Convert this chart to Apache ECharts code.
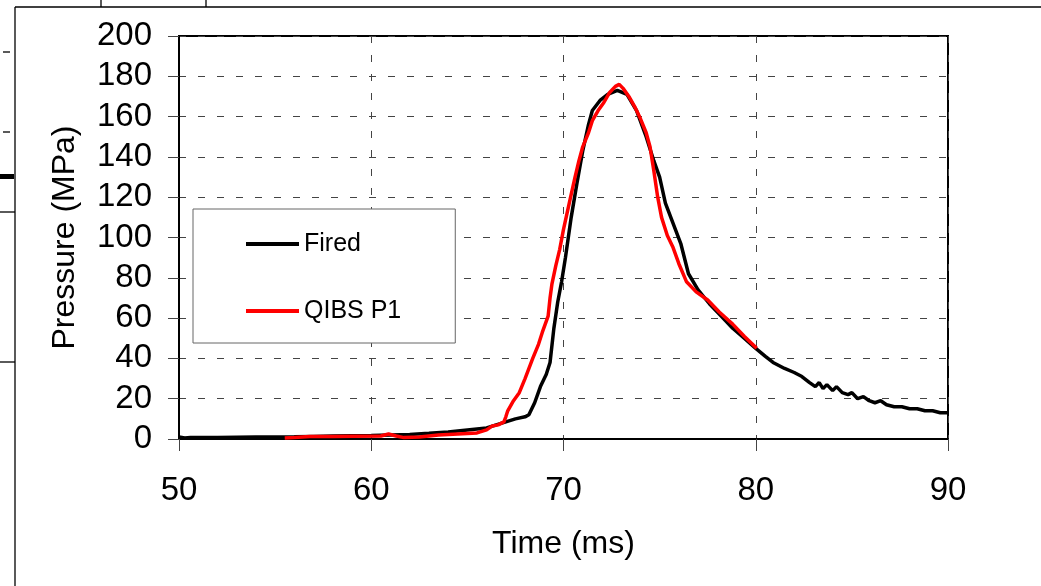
<!DOCTYPE html>
<html>
<head>
<meta charset="utf-8">
<script src="https://cdn.jsdelivr.net/npm/echarts@6/dist/echarts.min.js"></script>
<style>
  html, body { margin: 0; padding: 0; background: #fff; }
  #chart { width: 1041px; height: 586px; }
</style>
</head>
<body>
<div id="chart"></div>
<script>
// Fired pressure trace (time in ms, pressure in MPa)
var firedTime = [50.0, 50.3, 50.6, 51, 52, 53, 54, 55, 56, 57, 58, 59, 60, 61, 62, 63, 64, 65, 66, 66.5,
  67, 67.5, 68.0, 68.2, 68.5, 68.8, 69.1, 69.3, 69.5, 69.7, 69.9, 70.1, 70.4, 70.7, 71.0, 71.3, 71.5, 71.9,
  72.3, 72.8, 73.3, 73.8, 74.3, 74.7, 75.0, 75.3, 75.7, 76.1, 76.5, 77.0, 77.6, 78.2, 78.8, 79.4, 80.0,
  80.5, 80.9, 81.5, 82.0, 82.4, 82.8, 83.1, 83.3, 83.5, 83.7, 84.0, 84.2, 84.5, 84.8, 85.0, 85.3, 85.6,
  85.9, 86.2, 86.5, 86.8, 87.2, 87.6, 88.0, 88.4, 88.8, 89.2, 89.6, 90.0];
var firedPressure = [1.0, 0.5, 0.8, 0.8, 0.8, 0.9, 1.0, 1.0, 1.1, 1.3, 1.5, 1.6, 1.7, 2.0, 2.2, 2.8, 3.5, 4.5, 5.5, 7,
  8.5, 10, 11, 12, 18, 26, 32, 38, 55, 68, 78, 90, 110, 127, 143, 156, 163, 168,
  171, 173, 171, 163, 150, 138, 130, 117, 107, 97, 82, 74, 67, 61, 55, 50, 45,
  41, 38, 35, 33, 31, 28, 26, 28, 25, 27, 24, 26, 23, 22, 23, 20, 21,
  19, 18, 19, 17, 16, 16, 15, 15, 14, 14, 13, 13];

// QIBS P1 simulated trace
var qibsTime = [55.5, 56.0, 56.8, 58, 59, 60.5, 60.9, 61.3, 61.7, 62.5, 63.5, 64.5, 65.5, 66.0, 66.3, 66.6, 66.9,
  67.0, 67.1, 67.4, 67.7, 68.0, 68.4, 68.7, 68.9, 69.2, 69.3, 69.4, 69.6, 69.8, 70.0, 70.3, 70.6, 70.8,
  71.0, 71.3, 71.5, 71.8, 72.1, 72.4, 72.7, 72.9, 73.1, 73.4, 73.7, 74.0, 74.3, 74.5, 74.7, 74.9, 75.1,
  75.4, 75.7, 76.0, 76.4, 76.9, 77.5, 78.1, 78.8, 79.4, 80.05];
var qibsPressure = [0.5, 0.7, 1.2, 1.3, 1.4, 1.5, 2.5, 1.5, 0.7, 1.0, 2.0, 2.5, 3.0, 4.5, 6.5, 7.0, 8.5,
  11, 14, 19, 23, 30, 40, 47, 53, 61, 70, 77, 86, 94, 104, 117, 130, 138,
  145, 152, 158, 163, 167, 172, 175, 176, 174, 170, 165, 159, 152, 145, 133, 120, 110,
  101, 95, 87, 78, 73, 69, 63, 57, 51, 45];

var seriesNames = ['Fired', 'QIBS P1'];
var xTicks = [50, 60, 70, 80, 90];
var yTicks = [0, 20, 40, 60, 80, 100, 120, 140, 160, 180, 200];

function pairs(xs, ys) { return xs.map(function (x, i) { return [x, ys[i]]; }); }

var font = '"Liberation Sans", Arial, sans-serif';
var chart = echarts.init(document.getElementById('chart'), null, { renderer: 'canvas' });

// leftovers of the surrounding figure, cropped into the picture
var frame = [
  [[15, 7], [1041, 7]], [[15, 7], [15, 586]], [[101, 0], [101, 7]], [[206, 0], [206, 7]],
  [[3, 52], [10, 52]], [[3, 132], [10, 132]], [[0, 212], [15, 212]], [[0, 362], [15, 362]]
].map(function (s) {
  return { type: 'line', silent: true, shape: { x1: s[0][0], y1: s[0][1], x2: s[1][0], y2: s[1][1] },
    style: { stroke: '#000', lineWidth: 1.3 } };
});
frame.push({ type: 'rect', silent: true, shape: { x: 0, y: 174, width: 14, height: 5 }, style: { fill: '#000' } });

chart.setOption({
  animation: false,
  backgroundColor: '#fff',
  grid: { left: 179, right: 93, top: 36, bottom: 147, show: true, borderColor: '#000', borderWidth: 2 },
  graphic: frame,
  legend: {
    orient: 'vertical', left: 193, top: 209,
    padding: [20, 54, 17, 53],
    itemWidth: 53, itemHeight: 4, itemGap: 37,
    icon: 'rect',
    backgroundColor: '#fff', borderColor: '#666', borderWidth: 1, borderRadius: 0,
    textStyle: { fontFamily: font, fontSize: 25, color: '#000', lineHeight: 30 },
    data: seriesNames
  },
  xAxis: {
    type: 'value', min: xTicks[0], max: xTicks[xTicks.length - 1], interval: 10,
    name: 'Time (ms)', nameLocation: 'middle', nameGap: 89,
    nameTextStyle: { fontFamily: font, fontSize: 32, color: '#000' },
    axisLine: { lineStyle: { color: '#000', width: 2 } },
    axisTick: { show: true, length: 12, lineStyle: { color: '#444', width: 1 } },
    axisLabel: { fontFamily: font, fontSize: 33, color: '#000', margin: 35 },
    splitLine: { show: true, lineStyle: { color: '#444', width: 1, type: [7, 12] } }
  },
  yAxis: {
    type: 'value', min: yTicks[0], max: yTicks[yTicks.length - 1], interval: 20,
    name: 'Pressure (MPa)', nameLocation: 'middle', nameGap: 98,
    nameTextStyle: { fontFamily: font, fontSize: 32, color: '#000' },
    axisLine: { show: true, lineStyle: { color: '#000', width: 2 } },
    axisTick: { show: true, length: 11, lineStyle: { color: '#444', width: 1 } },
    axisLabel: { fontFamily: font, fontSize: 33, color: '#000', margin: 27, padding: [9, 0, 0, 0] },
    splitLine: { show: true, lineStyle: { color: '#444', width: 1, type: [7, 12] } }
  },
  series: [
    { name: seriesNames[0], type: 'line', data: pairs(firedTime, firedPressure), showSymbol: false,
      itemStyle: { color: '#000' }, lineStyle: { color: '#000', width: 3.5 }, z: 3 },
    { name: seriesNames[1], type: 'line', data: pairs(qibsTime, qibsPressure), showSymbol: false,
      itemStyle: { color: '#ff0000' }, lineStyle: { color: '#ff0000', width: 3.5 }, z: 4 }
  ]
});
</script>
</body>
</html>
